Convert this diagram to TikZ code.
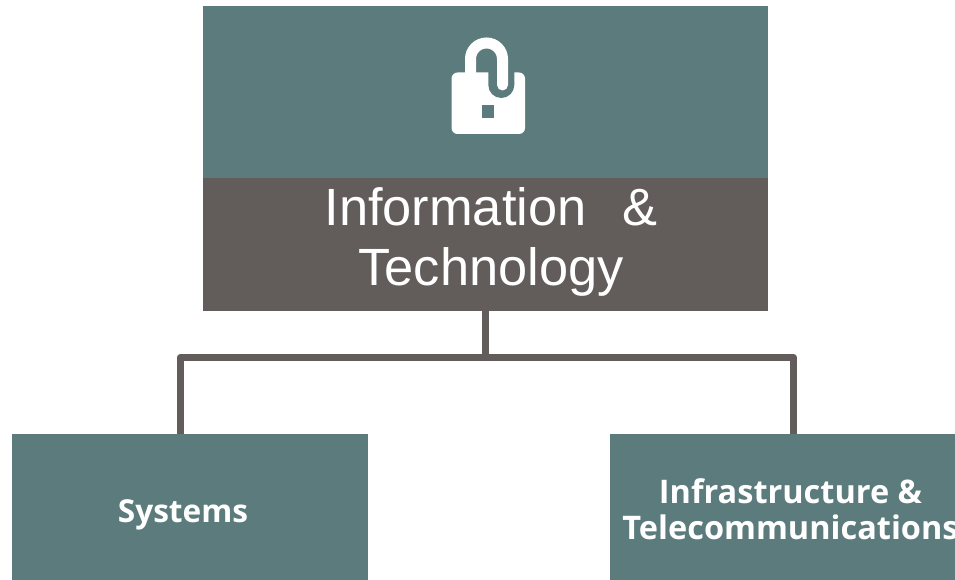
\documentclass[tikz,border=0pt]{standalone}
\usepackage{fontspec}
\setmainfont{Liberation Sans}
\newfontfamily\labelfont[BoldFont={Open Sans Bold}]{Open Sans}
\definecolor{tealbox}{HTML}{5C7B7C}
\definecolor{greybox}{HTML}{625C5B}
\tikzset{
  box/.style={anchor=north west,inner sep=0pt,outer sep=0pt,draw=none},
  titletext/.style={text=white,font=\fontsize{52.4}{60}\selectfont,align=center,inner sep=0pt},
  subtext/.style={text=white,font=\labelfont\bfseries\fontsize{32.5}{36}\selectfont,align=center,inner sep=0pt},
  conn/.style={draw=greybox,line width=7.3pt,line join=round},
}
\begin{document}
\begin{tikzpicture}[x=1pt,y=-1pt]
\useasboundingbox (0,0) rectangle (955,580);
% boxes
\node[box,fill=tealbox,minimum width=565pt,minimum height=172pt] (iconbox) at (203,6) {};
\node[box,fill=greybox,minimum width=565pt,minimum height=133pt] (titlebox) at (203,178) {};
\node[box,fill=tealbox,minimum width=356pt,minimum height=146pt] (sys) at (12,434) {};
\node[box,fill=tealbox,minimum width=345pt,minimum height=146pt] (infra) at (610,434) {};
% connector points
\coordinate (stem) at (titlebox.south);
\coordinate (junction) at (485.5,357.5);
\coordinate (sysdrop) at (180.5,434);
\coordinate (infradrop) at (793.3,434);
\draw[conn] (stem) -- (stem |- junction);
\draw[conn] (sysdrop) |- (junction) -| (infradrop);
% texts
\node[titletext] (title) at (491,241.5) {Information\hspace{36pt}\&\\Technology};
\node[subtext,font=\labelfont\bfseries\fontsize{31.6}{36}\selectfont] (systext) at (183,515) {Systems};
\node[subtext] (infratext) at (790.5,509) {Infrastructure \&\\Telecommunications};
% padlock
\fill[white,rounded corners=6pt] (451.5,72.5) rectangle (525,134);
\fill[tealbox] (488.3,72) -- (514.3,72) -- (514.3,85) arc[start angle=0,end angle=180,radius=13] -- cycle;
\draw[white,line width=11pt,line cap=round] (470.5,76) -- (470.5,59) arc[start angle=180,end angle=360,radius=16] -- (502.5,85);
\fill[tealbox] (482,105) rectangle (494.3,117.7);
\end{tikzpicture}
\end{document}
